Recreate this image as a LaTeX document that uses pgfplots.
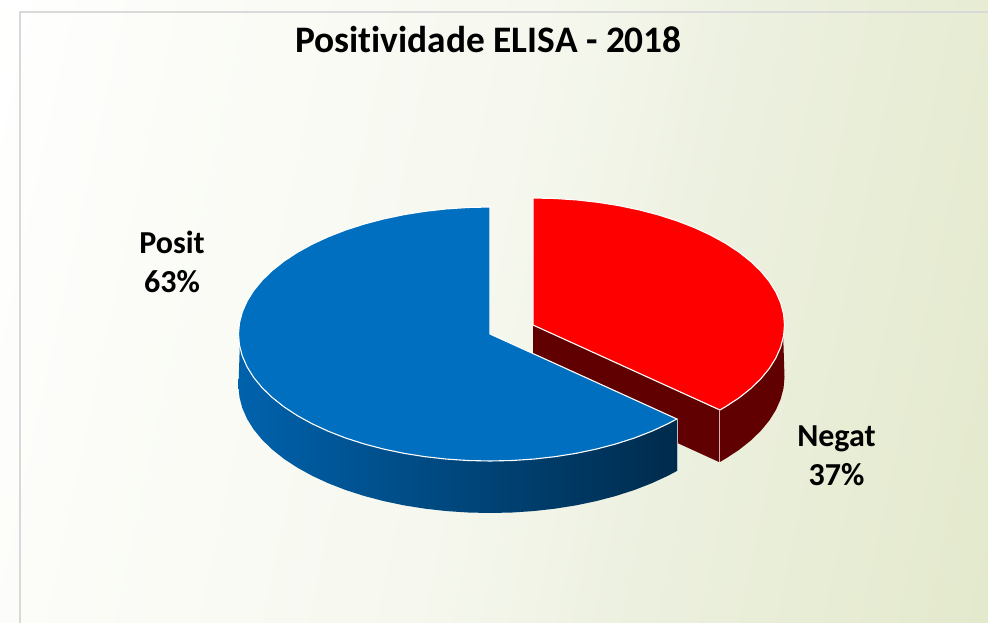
\documentclass[border=0pt]{standalone}
\usepackage{fontspec}
\setmainfont{Carlito}[Ligatures=NoCommon]
\usepackage{pgfplots}
\usepackage{pgfplotstable}
\pgfplotsset{compat=1.18}
\definecolor{frameC}{HTML}{D9D9D9}
\definecolor{blueTopC}{HTML}{006FC0}
\definecolor{blueL}{HTML}{0062AC}
\definecolor{blueR}{HTML}{002B4C}
\definecolor{redDark}{HTML}{600000}
\definecolor{b0}{HTML}{FFFFFF}
\definecolor{b1}{HTML}{FBFCF7}
\definecolor{b2}{HTML}{F6F8EF}
\definecolor{b3}{HTML}{ECF0DF}
\definecolor{b4}{HTML}{E8EDD6}
\definecolor{b5}{HTML}{E3E9CC}
\pgfdeclarehorizontalshading{bgs}{100bp}{color(0bp)=(b0); color(20bp)=(b0); color(31bp)=(b1); color(49bp)=(b2); color(61bp)=(b3); color(70bp)=(b4); color(80bp)=(b5); color(100bp)=(b5)}
% unit-ellipse outlines: c, s, d = depth flag
\pgfplotstableread{
c s
.7431 .6691
.7071 .7071
.6428 .7660
.5736 .8192
.5 .8660
.4226 .9063
.3420 .9397
.2588 .9659
.1736 .9848
.0872 .9962
0 1
-.0872 .9962
-.1736 .9848
-.2588 .9659
-.3420 .9397
-.4226 .9063
-.5 .8660
-.5736 .8192
-.6428 .7660
-.7071 .7071
-.7660 .6428
-.8192 .5736
-.8660 .5
-.9063 .4226
-.9397 .3420
-.9659 .2588
-.9848 .1736
-.9962 .0872
-1 0
-.9962 -.0872
-.9848 -.1736
-.9659 -.2588
-.9397 -.3420
-.9063 -.4226
-.8660 -.5
-.8192 -.5736
-.7660 -.6428
-.7071 -.7071
-.6428 -.7660
-.5736 -.8192
-.5 -.8660
-.4226 -.9063
-.3420 -.9397
-.2588 -.9659
-.1736 -.9848
-.0872 -.9962
0 -1
0 0
}\blueTopT
\pgfplotstableread{
c s
0 -1
.0872 -.9962
.1736 -.9848
.2588 -.9659
.3420 -.9397
.4226 -.9063
.5 -.8660
.5736 -.8192
.6428 -.7660
.7071 -.7071
.7660 -.6428
.8192 -.5736
.8660 -.5
.9063 -.4226
.9397 -.3420
.9659 -.2588
.9848 -.1736
.9962 -.0872
1 0
.9962 .0872
.9848 .1736
.9659 .2588
.9397 .3420
.9063 .4226
.8660 .5
.8192 .5736
.7660 .6428
.7431 .6691
0 0
}\redTopT
\pgfplotstableread{
c s d
.7431 .6691 0
.7071 .7071 0
.6428 .7660 0
.5736 .8192 0
.5 .8660 0
.4226 .9063 0
.3420 .9397 0
.2588 .9659 0
.1736 .9848 0
.0872 .9962 0
0 1 0
-.0872 .9962 0
-.1736 .9848 0
-.2588 .9659 0
-.3420 .9397 0
-.4226 .9063 0
-.5 .8660 0
-.5736 .8192 0
-.6428 .7660 0
-.7071 .7071 0
-.7660 .6428 0
-.8192 .5736 0
-.8660 .5 0
-.9063 .4226 0
-.9397 .3420 0
-.9659 .2588 0
-.9848 .1736 0
-.995 .1 0
-1 0 1
-.9962 .0872 1
-.9848 .1736 1
-.9659 .2588 1
-.9397 .3420 1
-.9063 .4226 1
-.8660 .5 1
-.8192 .5736 1
-.7660 .6428 1
-.7071 .7071 1
-.6428 .7660 1
-.5736 .8192 1
-.5 .8660 1
-.4226 .9063 1
-.3420 .9397 1
-.2588 .9659 1
-.1736 .9848 1
-.0872 .9962 1
0 1 1
.0872 .9962 1
.1736 .9848 1
.2588 .9659 1
.3420 .9397 1
.4226 .9063 1
.5 .8660 1
.5736 .8192 1
.6428 .7660 1
.7071 .7071 1
.7431 .6691 1
}\blueSideT
\pgfplotstableread{
c s d
.995 .1 0
.9848 .1736 0
.9659 .2588 0
.9397 .3420 0
.9063 .4226 0
.8660 .5 0
.8192 .5736 0
.7660 .6428 0
.7431 .6691 0
.7431 .6691 1
.7660 .6428 1
.8192 .5736 1
.8660 .5 1
.9063 .4226 1
.9397 .3420 1
.9659 .2588 1
.9848 .1736 1
.9962 .0872 1
1 0 1
}\redSideT
\begin{document}
\begin{tikzpicture}
\begin{axis}[
  scale only axis, width=988pt, height=623pt,
  xmin=0, xmax=988, ymin=0, ymax=623, y dir=reverse,
  axis lines=none, clip=true,
]
% background and frame
\fill[shading=bgs, shading angle=-12]
  (axis cs:0,0) rectangle (axis cs:988,623);
\addplot[frameC, line width=2pt] coordinates {(19.5,623) (19.5,12.5) (988,12.5)};
% red slice
\addplot[fill=redDark, draw=none] coordinates {(533,325) (719,410) (719,462) (533,377)} -- cycle;
\addplot[fill=redDark, draw=none] table[x expr=533+251.5*\thisrow{c}, y expr=325+127*\thisrow{s}+52*\thisrow{d}] {\redSideT} -- cycle;
\addplot[fill=red, draw=white, line width=1.1pt] table[x expr=533+251.5*\thisrow{c}, y expr=325+127*\thisrow{s}] {\redTopT} -- cycle;
\addplot[white!70!redDark, line width=0.8pt] coordinates {(719,410) (719,462)};
% blue slice
\addplot[left color=blueL, right color=blueR, draw=none] table[x expr=490+251.5*\thisrow{c}, y expr=334+127*\thisrow{s}+52*\thisrow{d}] {\blueSideT} -- cycle;
\addplot[fill=blueTopC, draw=white, line width=1.1pt] table[x expr=490+251.5*\thisrow{c}, y expr=334+127*\thisrow{s}] {\blueTopT} -- cycle;
\addplot[white!70!blueR, line width=0.8pt] coordinates {(677,419) (677,471)};
% text
\node[font=\fontsize{37.4}{44}\selectfont\bfseries, anchor=center] at (axis cs:488.5,40) {Positividade ELISA - 2018};
\node[font=\fontsize{32}{38.5}\selectfont\bfseries, align=center] at (axis cs:172,262) {Posit\\63\%};
\node[font=\fontsize{32}{38.5}\selectfont\bfseries, align=center] at (axis cs:836.5,456) {Negat\\37\%};
\end{axis}
\end{tikzpicture}
\end{document}
